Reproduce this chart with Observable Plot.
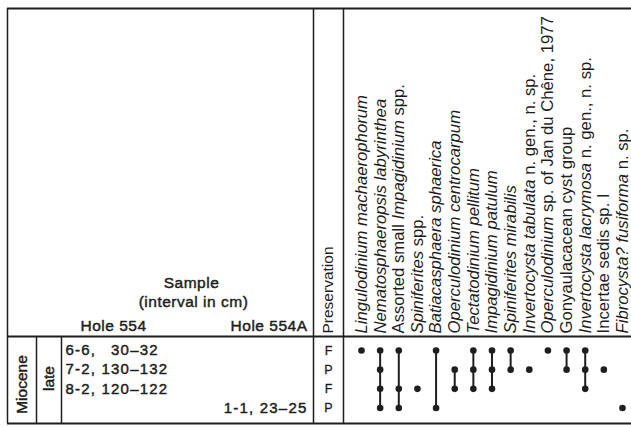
<!DOCTYPE html>
<html><head><meta charset="utf-8">
<script src="https://cdn.jsdelivr.net/npm/d3@7"></script>
<script src="https://cdn.jsdelivr.net/npm/@observablehq/plot@0.6"></script>
<style>html,body{margin:0;padding:0;background:#fff}</style>
</head><body><div id="chart"></div>
<script>
// ---- data ----
const taxonLabels = [
  [["Lingulodinium machaerophorum", true]],
  [["Nematosphaeropsis labyrinthea", true]],
  [["Assorted small ", false], ["Impagidinium", true], [" spp.", false]],
  [["Spiniferites", true], [" spp.", false]],
  [["Batiacasphaera sphaerica", true]],
  [["Operculodinium centrocarpum", true]],
  [["Tectatodinium pellitum", true]],
  [["Impagidinium patulum", true]],
  [["Spiniferites mirabilis", true]],
  [["Invertocysta tabulata", true], [" n. gen., n. sp.", false]],
  [["Operculodinium", true], [" sp. of Jan du Chêne, 1977", false]],
  [["Gonyaulacacean cyst group", false]],
  [["Invertocysta lacrymosa", true], [" n. gen., n. sp.", false]],
  [["Incertae sedis sp. I", false]],
  [["Fibrocysta? fusiforma", true], [" n. sp.", false]]
];
const taxa = taxonLabels.map(parts => parts.map(p => p[0]).join(""));
const samples = ["6-6, \u200730\u201332", "7-2, 130\u2013132", "8-2, 120\u2013122", "1-1, 23\u201325"];
const holes = ["554", "554", "554", "554A"];
const preservation = ["F", "P", "F", "P"];
// presence[taxon][sample]
const presence = [
  [1,0,0,0],
  [1,1,1,1],
  [1,0,1,1],
  [0,0,1,0],
  [1,0,0,1],
  [0,1,1,0],
  [1,1,1,0],
  [1,1,1,0],
  [1,1,0,0],
  [0,1,0,0],
  [1,0,0,0],
  [1,1,0,0],
  [1,1,1,0],
  [0,1,0,0],
  [0,0,0,1]
];

// ---- derived tables ----
const occ = [];
const ranges = [];
presence.forEach((row, t) => {
  const idx = [];
  row.forEach((v, s) => { if (v) { occ.push({taxon: taxa[t], sample: samples[s]}); idx.push(s); } });
  if (idx.length > 1) ranges.push({taxon: taxa[t], first: samples[idx[0]], last: samples[idx[idx.length - 1]]});
});

// ---- layout ----
const W = 631, H = 427;
const L = {left: 7, top: 8, header: 336, bottom: 423, right: 631,
           divMio: 36, divLate: 61, divSample: 313, divPres: 343};
const ink = "#1e1e1e";
const font = "'Liberation Sans', Arial, sans-serif";
const heavy = {fill: ink, stroke: ink, strokeWidth: 0.45};

const xCol = Plot.scale({x: {type: "point", domain: taxa, range: [361, 622], padding: 0}});
const yRow = Plot.scale({y: {type: "point", domain: samples, range: [350, 407.5], padding: 0}});
const X = d => xCol.apply(d), Y = d => yRow.apply(d);

const chart = Plot.plot({
  width: W, height: H,
  margin: 0,
  x: {type: "identity", axis: null},
  y: {type: "identity", axis: null},
  style: {fontFamily: font, background: "#fff", color: ink},
  marks: [
    // table grid
    Plot.ruleY([L.top, L.header, L.bottom], {x1: L.left, x2: L.right, stroke: ink, strokeWidth: 1.8}),
    Plot.ruleX([L.left, L.divSample, L.divPres], {y1: L.top, y2: L.bottom, stroke: ink, strokeWidth: 1.5}),
    Plot.ruleX([L.divMio, L.divLate], {y1: L.header, y2: L.bottom, stroke: ink, strokeWidth: 1.5}),
    // header of sample column
    Plot.text(["Sample"], {x: 191, y: 283, fontSize: 15.5, ...heavy}),
    Plot.text(["(interval in cm)"], {x: 193, y: 302, fontSize: 15.5, ...heavy}),
    Plot.text(["Hole 554"], {x: 80, y: 326, textAnchor: "start", fontSize: 15.5, ...heavy}),
    Plot.text(["Hole 554A"], {x: 307, y: 326, textAnchor: "end", fontSize: 15.5, ...heavy}),
    Plot.text(["Preservation"], {x: 328, y: 333, rotate: -90, textAnchor: "start", fontSize: 15.5, fill: ink}),
    // age
    Plot.text(["Miocene"], {x: 22, y: 384, rotate: -90, fontSize: 15.5, ...heavy}),
    Plot.text(["late"], {x: 49, y: 378, rotate: -90, fontSize: 15.5, ...heavy}),
    // sample labels
    Plot.text(samples, {filter: (d, i) => holes[i] === "554", x: 65, y: d => Y(d), textAnchor: "start", fontSize: 15, ...heavy}),
    Plot.text(samples, {filter: (d, i) => holes[i] === "554A", x: 307, y: d => Y(d), textAnchor: "end", fontSize: 15, ...heavy}),
    // preservation
    Plot.text(preservation, {x: 328, y: (d, i) => Y(samples[i]), fontSize: 12.5, fill: ink, stroke: ink, strokeWidth: 0.3}),
    // taxa names
    Plot.text(taxa, {x: d => X(d), y: 333, rotate: -90, textAnchor: "start", fontSize: 16.7, fill: ink}),
    // ranges and occurrences
    Plot.ruleX(ranges, {x: d => X(d.taxon), y1: d => Y(d.first), y2: d => Y(d.last), stroke: ink, strokeWidth: 2}),
    Plot.dot(occ, {x: d => X(d.taxon), y: d => Y(d.sample), r: 3.3, fill: ink, stroke: "none"})
  ]
});

const svg = d3.select(chart);
// mixed italic / roman taxon names; letter spacing for the wider sample labels
const labelMap = new Map(taxa.map((t, i) => [t, taxonLabels[i]]));
const sampleSet = new Set(samples);
const headerSet = new Set(["Sample", "(interval in cm)", "Hole 554", "Hole 554A"]);
svg.selectAll("text").each(function() {
  const content = this.textContent;
  if (sampleSet.has(content)) { d3.select(this).style("letter-spacing", "1.2px"); return; }
  if (headerSet.has(content)) { d3.select(this).style("letter-spacing", "0.5px"); return; }
  const parts = labelMap.get(content);
  if (!parts) return;
  const sel = d3.select(this);
  sel.text(null);
  parts.forEach(([txt, it]) => sel.append("tspan").attr("font-style", it ? "italic" : "normal").text(txt));
});

document.getElementById("chart").appendChild(chart);
</script>
</body></html>
